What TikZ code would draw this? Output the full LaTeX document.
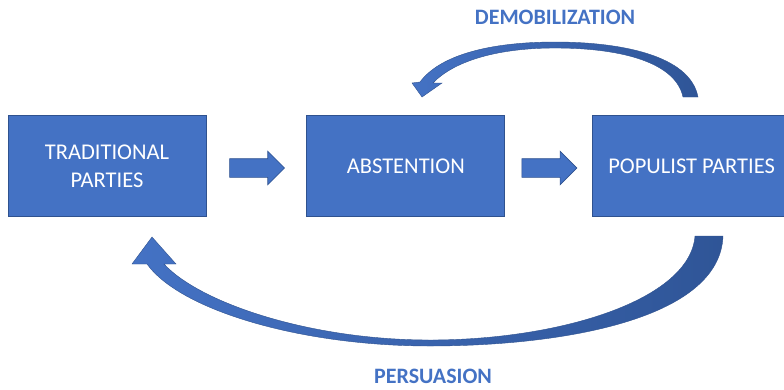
\documentclass[tikz,border=0pt]{standalone}
\usepackage{fontspec}
\setmainfont{Carlito}
\usetikzlibrary{arrows, shapes.arrows, positioning, calc}

\definecolor{boxblue}{HTML}{4472C4}
\definecolor{edgeblue}{HTML}{2F528F}
\definecolor{darkblue}{HTML}{2F5597}

\tikzset{
  box/.style={draw=edgeblue, line width=0.8pt, fill=boxblue, text=white,
    minimum width=198pt, minimum height=101pt, align=center,
    font=\fontsize{22.5}{28}\selectfont},
  blockarrow/.style={single arrow, draw=edgeblue, line width=0.6pt, fill=boxblue,
    minimum height=55pt, inner xsep=0pt, inner ysep=9pt,
    single arrow head extend=7.5pt},
  lbl/.style={text=boxblue, inner sep=0pt, font=\fontsize{22}{24}\selectfont\bfseries},
  swoosh/.style={draw=edgeblue, line width=0.4pt, left color=boxblue, right color=darkblue}
}

\begin{document}
\begin{tikzpicture}[x=1pt, y=-1pt]
        \useasboundingbox (0,0) rectangle (784,389);
        \node[box] (trad) at (107,166) {TRADITIONAL\\PARTIES};
        \node[box, right=100pt of trad] (abst) {ABSTENTION};
        \node[box, right=87pt of abst] (pop) {POPULIST PARTIES};
        \node[blockarrow] (arr1) at ($(trad.east)!0.5!(abst.west)+(-4,2)$) {};
        \node[blockarrow] (arr2) at ($(abst.east)!0.5!(pop.west)+(-4,2)$) {};
        % demobilization: populist back to abstention
        \draw[swoosh] (698,97) .. controls (690,55) and (620,42) .. (555,42)
            .. controls (490,42) and (440,55) .. (420,82) -- (412,83) -- (422,97)
            -- (442,83) -- (433,83) .. controls (455,60) and (500,48) .. (555,48)
            .. controls (615,48) and (675,60) .. (683,97) -- cycle;
        \node[lbl] (demob) at (555,17) {DEMOBILIZATION};
        % persuasion: populist back to traditional
        \draw[swoosh] (723,236) .. controls (720,320) and (560,346) .. (430,346)
            .. controls (300,346) and (180,310) .. (147,264) -- (132,264) -- (152,237)
            -- (176,264) -- (164,264) .. controls (200,303) and (310,340) .. (430,340)
            .. controls (560,340) and (690,300) .. (695,236) -- cycle;
        \node[lbl] (pers) at (433,376) {PERSUASION};
    \end{tikzpicture}
\end{document}
